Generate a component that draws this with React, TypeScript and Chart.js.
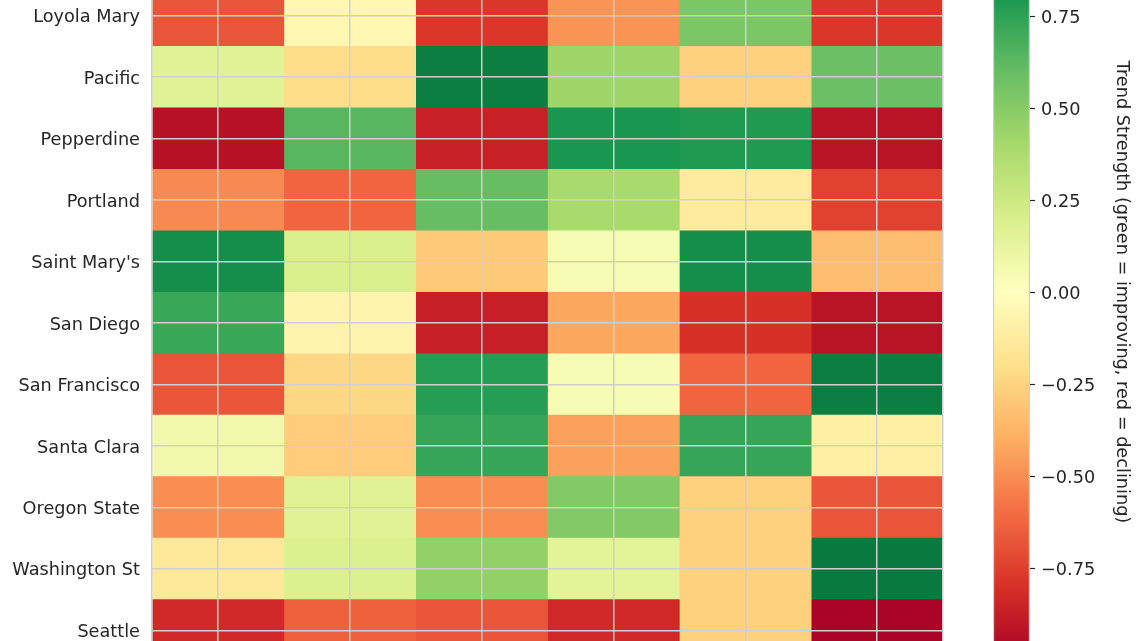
import React, { useEffect, useRef } from "react";
import { Chart, registerables } from "chart.js";

Chart.register(...registerables);

// ---- Data ----
const teams = [
  "Loyola Mary",
  "Pacific",
  "Pepperdine",
  "Portland",
  "Saint Mary's",
  "San Diego",
  "San Francisco",
  "Santa Clara",
  "Oregon State",
  "Washington St",
  "Seattle",
];

const loyolaMary = [-0.68, -0.05, -0.78, -0.48, 0.53, -0.78];
const pacific = [0.16, -0.21, 0.91, 0.42, -0.26, 0.58];
const pepperdine = [-0.93, 0.64, -0.86, 0.81, 0.79, -0.92];
const portland = [-0.51, -0.63, 0.6, 0.39, -0.13, -0.74];
const saintMarys = [0.84, 0.2, -0.29, 0.04, 0.84, -0.34];
const sanDiego = [0.72, -0.07, -0.87, -0.42, -0.8, -0.92];
const sanFrancisco = [-0.68, -0.23, 0.77, 0.04, -0.63, 0.91];
const santaClara = [0.07, -0.28, 0.73, -0.44, 0.73, -0.1];
const oregonState = [-0.5, 0.16, -0.5, 0.51, -0.26, -0.68];
const washingtonSt = [-0.14, 0.19, 0.46, 0.15, -0.26, 0.93];
const seattle = [-0.83, -0.64, -0.68, -0.83, -0.26, -0.98];

const rows = [
  loyolaMary,
  pacific,
  pepperdine,
  portland,
  saintMarys,
  sanDiego,
  sanFrancisco,
  santaClara,
  oregonState,
  washingtonSt,
  seattle,
];

const colorbarTicks = [-0.75, -0.5, -0.25, 0, 0.25, 0.5, 0.75];
const colorbarTitle = "Trend Strength (green = improving, red = declining)";
const vmin = -1;
const vmax = 1;

// ---- RdYlGn colormap ----
const RDYLGN = [
  "#a50026",
  "#d73027",
  "#f46d43",
  "#fdae61",
  "#fee08b",
  "#ffffbf",
  "#d9ef8b",
  "#a6d96a",
  "#66bd63",
  "#1a9850",
  "#006837",
];

function hexToRgb(h: string): number[] {
  const n = parseInt(h.slice(1), 16);
  return [(n >> 16) & 255, (n >> 8) & 255, n & 255];
}

function cmap(v: number): string {
  let t = (v - vmin) / (vmax - vmin);
  t = Math.max(0, Math.min(1, t));
  const p = t * 10;
  const i = Math.min(9, Math.floor(p));
  const f = p - i;
  const a = hexToRgb(RDYLGN[i]);
  const b = hexToRgb(RDYLGN[i + 1]);
  const c = a.map((x, k) => Math.round(x + (b[k] - x) * f));
  return `rgb(${c[0]},${c[1]},${c[2]})`;
}

const FONT = "'DejaVu Sans', sans-serif";
const FONT_SIZE = 17.7;
const TEXT = "#262626";
const GRID = "#cfcfcf";

const fmt = (v: number) => {
  const s = Math.abs(v).toFixed(2);
  return v < -1e-9 ? "\u2212" + s : s;
};

const zeroPad = (s: any) => {
  s.paddingTop = 0;
  s.paddingBottom = 0;
  s.paddingLeft = 0;
  s.paddingRight = 0;
};

export default function App() {
  const heatRef = useRef<HTMLCanvasElement | null>(null);
  const cbRef = useRef<HTMLCanvasElement | null>(null);

  useEffect(() => {
    const nCols = rows[0].length;
    const datasets = [];
    for (let j = 0; j < nCols; j++) {
      datasets.push({
        label: "col" + (j + 1),
        data: teams.map(() => [j, j + 1]),
        backgroundColor: rows.map((r) => cmap(r[j])),
        borderWidth: 0,
        barPercentage: 1,
        categoryPercentage: 1,
        grouped: false,
      });
    }

    const heat = new Chart(heatRef.current as HTMLCanvasElement, {
      type: "bar",
      data: { labels: teams, datasets: datasets as any },
      options: {
        indexAxis: "y",
        animation: false,
        responsive: false,
        devicePixelRatio: 1,
        layout: { padding: { left: 0, right: 2, top: 0, bottom: 0 } },
        plugins: { legend: { display: false }, tooltip: { enabled: false } },
        scales: {
          x: {
            type: "linear",
            min: 0,
            max: nCols,
            position: "bottom",
            ticks: { display: false },
            border: { display: false },
            grid: { color: GRID, lineWidth: 1.5, drawTicks: false, z: 1 } as any,
            afterBuildTicks: (s: any) => {
              const t = [{ value: 0 }];
              for (let j = 0; j < nCols; j++) t.push({ value: j + 0.5 });
              t.push({ value: nCols });
              s.ticks = t;
            },
            afterFit: (s: any) => {
              s.height = 0;
              zeroPad(s);
            },
          },
          y: {
            type: "category",
            offset: true,
            ticks: {
              color: TEXT,
              font: { family: FONT, size: FONT_SIZE },
              padding: 12,
              labelOffset: 2,
            },
            border: { display: false },
            grid: {
              color: GRID,
              lineWidth: 1.5,
              drawTicks: false,
              offset: false,
              z: 1,
            } as any,
            afterFit: (s: any) => {
              s.width = 152;
              zeroPad(s);
            },
          },
        },
      },
    });

    const cb = new Chart(cbRef.current as HTMLCanvasElement, {
      type: "bar",
      data: {
        labels: ["cb"],
        datasets: [
          {
            data: [[vmin, vmax]] as any,
            backgroundColor: (ctx: any) => {
              const chart = ctx.chart;
              if (!chart.chartArea) return "#ffffbf";
              const y = chart.scales.y;
              const g = chart.ctx.createLinearGradient(
                0,
                y.getPixelForValue(vmin),
                0,
                y.getPixelForValue(vmax)
              );
              RDYLGN.forEach((c, i) => g.addColorStop(i / 10, c));
              return g;
            },
            borderColor: GRID,
            borderWidth: 1.5,
            borderSkipped: false,
            barPercentage: 1,
            categoryPercentage: 1,
          },
        ],
      },
      options: {
        animation: false,
        responsive: false,
        devicePixelRatio: 1,
        layout: { padding: 0 },
        plugins: { legend: { display: false }, tooltip: { enabled: false } },
        scales: {
          x: {
            display: false,
            offset: true,
            afterFit: (s: any) => {
              s.height = 0;
              zeroPad(s);
            },
          },
          y: {
            type: "linear",
            position: "right",
            min: vmin,
            max: vmax,
            afterBuildTicks: (s: any) => {
              s.ticks = colorbarTicks.map((v) => ({ value: v }));
            },
            ticks: {
              color: TEXT,
              font: { family: FONT, size: FONT_SIZE },
              padding: 6,
              labelOffset: 2,
              callback: (v: any) => fmt(Number(v)),
            },
            border: { display: false },
            grid: {
              drawOnChartArea: false,
              drawTicks: true,
              tickLength: 5,
              tickColor: TEXT,
              tickWidth: 1.2,
              color: TEXT,
            },
            title: {
              display: true,
              text: colorbarTitle,
              color: TEXT,
              font: { family: FONT, size: FONT_SIZE },
              padding: { top: 8, bottom: 0 },
            },
            afterFit: (s: any) => {
              s.width = 110;
              zeroPad(s);
            },
          },
        },
      },
    });

    return () => {
      heat.destroy();
      cb.destroy();
    };
  }, []);

  return (
    <div
      style={{
        position: "fixed",
        left: 0,
        top: 0,
        width: 1140,
        height: 641,
        overflow: "hidden",
        background: "#ffffff",
      }}
    >
      <canvas
        ref={heatRef}
        width={945}
        height={676}
        style={{ position: "absolute", left: 0, top: -15, width: 945, height: 676 }}
      />
      <canvas
        ref={cbRef}
        width={147}
        height={736}
        style={{ position: "absolute", left: 993, top: -76, width: 147, height: 736 }}
      />
    </div>
  );
}
